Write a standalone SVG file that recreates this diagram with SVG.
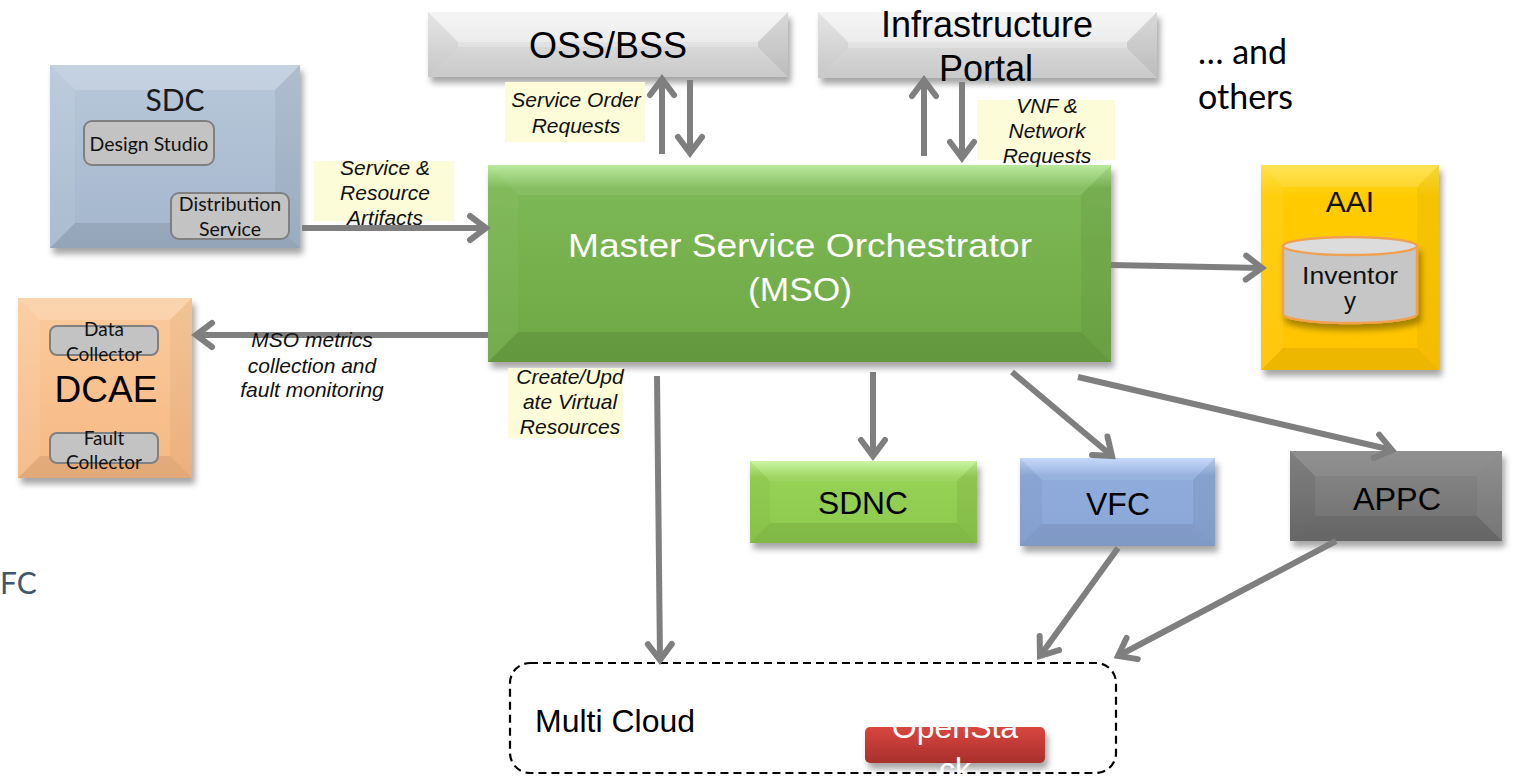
<svg xmlns="http://www.w3.org/2000/svg" width="1514" height="776" viewBox="0 0 1514 776">
  <defs>
    <style>
      .sans { font-family: "Liberation Sans", Arial, sans-serif; }
      .cal { font-family: Lato, "Open Sans", sans-serif; }
      .lbl { font-family: "Liberation Sans", Arial, sans-serif; font-style: italic; font-size: 21px; fill: #111; text-anchor: middle; }
      .lblbg { fill: #fdfcd8; }
      .conn { stroke: #7f7f7f; stroke-width: 6; fill: none; marker-end: url(#chev); }
      .hi { fill: #ffffff; }
      .sh { fill: #000000; }
      .sub { fill: #c3c3c3; stroke: #808080; stroke-width: 2; }
    </style>
    <marker id="chev" markerUnits="userSpaceOnUse" markerWidth="34" markerHeight="34" viewBox="0 0 34 34" refX="26" refY="17" orient="auto">
      <path d="M10,5 L26,17 L10,29" fill="none" stroke="#7f7f7f" stroke-width="6" stroke-linecap="round" stroke-linejoin="miter"/>
    </marker>
    <filter id="drop" x="-10%" y="-10%" width="130%" height="140%">
      <feDropShadow dx="3" dy="6" stdDeviation="3" flood-color="#000" flood-opacity="0.35"/>
    </filter>
    <linearGradient id="gSdc" x1="0" y1="0" x2="0" y2="1">
      <stop offset="0" stop-color="#b9c8da"/><stop offset="1" stop-color="#a3b6cd"/>
    </linearGradient>
    <linearGradient id="gDcae" x1="0" y1="0" x2="0" y2="1">
      <stop offset="0" stop-color="#fbcb9c"/><stop offset="1" stop-color="#f6b883"/>
    </linearGradient>
    <linearGradient id="gGray" x1="0" y1="0" x2="0" y2="1">
      <stop offset="0" stop-color="#f2f2f2"/><stop offset="1" stop-color="#d2d2d2"/>
    </linearGradient>
    <linearGradient id="gMso" x1="0" y1="0" x2="0" y2="1">
      <stop offset="0" stop-color="#b3e895"/><stop offset="0.12" stop-color="#7cb855"/><stop offset="1" stop-color="#6ea845"/>
    </linearGradient>
    <linearGradient id="gAai" x1="0" y1="0" x2="0" y2="1">
      <stop offset="0" stop-color="#ffe040"/><stop offset="0.15" stop-color="#ffcc00"/><stop offset="1" stop-color="#ffc400"/>
    </linearGradient>
    <linearGradient id="gSdnc" x1="0" y1="0" x2="0" y2="1">
      <stop offset="0" stop-color="#c6f59a"/><stop offset="0.2" stop-color="#96d255"/><stop offset="1" stop-color="#8cc84c"/>
    </linearGradient>
    <linearGradient id="gVfc" x1="0" y1="0" x2="0" y2="1">
      <stop offset="0" stop-color="#c2d8fb"/><stop offset="0.2" stop-color="#90acdc"/><stop offset="1" stop-color="#8aa6d6"/>
    </linearGradient>
    <linearGradient id="gAppc" x1="0" y1="0" x2="0" y2="1">
      <stop offset="0" stop-color="#8a8a8a"/><stop offset="1" stop-color="#6e6e6e"/>
    </linearGradient>
    <linearGradient id="gRed" x1="0" y1="0" x2="0" y2="1">
      <stop offset="0" stop-color="#d9463f"/><stop offset="1" stop-color="#a8302c"/>
    </linearGradient>
  </defs>

  <rect width="1514" height="776" fill="#ffffff"/>

  <!-- SDC -->
  <g id="sdc">
    <rect x="50" y="65" width="250" height="183" fill="url(#gSdc)" filter="url(#drop)"/>
    <polygon class="hi" opacity="0.18" points="50,65 300,65 275,90 75,90"/>
    <polygon class="hi" opacity="0.08" points="50,65 75,90 75,223 50,248"/>
    <polygon class="sh" opacity="0.05" points="300,65 300,248 275,223 275,90"/>
    <polygon class="sh" opacity="0.09" points="50,248 75,223 275,223 300,248"/>
    <text x="175" y="111" class="cal" font-size="30" fill="#1a1a1a" text-anchor="middle">SDC</text>
    <rect class="sub" x="84" y="121" width="130" height="44" rx="8"/>
    <text x="149" y="151" class="cal" font-size="19.5" fill="#111" text-anchor="middle">Design Studio</text>
    <rect class="sub" x="171" y="193" width="118" height="46" rx="8"/>
    <text x="230" y="211" class="cal" font-size="19.5" fill="#111" text-anchor="middle">Distribution</text>
    <text x="230" y="236" class="cal" font-size="19.5" fill="#111" text-anchor="middle">Service</text>
  </g>

  <!-- DCAE -->
  <g id="dcae">
    <rect x="18" y="298" width="174" height="180" fill="url(#gDcae)" filter="url(#drop)"/>
    <polygon class="hi" opacity="0.18" points="18,298 192,298 170,320 40,320"/>
    <polygon class="hi" opacity="0.08" points="18,298 40,320 40,456 18,478"/>
    <polygon class="sh" opacity="0.04" points="192,298 192,478 170,456 170,320"/>
    <polygon class="sh" opacity="0.08" points="18,478 40,456 170,456 192,478"/>
    <rect class="sub" x="50" y="326" width="108" height="29" rx="7" fill="#a9a9a9"/>
    <text x="104" y="336" class="cal" font-size="19" fill="#111" text-anchor="middle">Data</text>
    <text x="104" y="361" class="cal" font-size="19" fill="#111" text-anchor="middle">Collector</text>
    <text x="106" y="402" class="sans" font-size="37" fill="#000" text-anchor="middle">DCAE</text>
    <rect class="sub" x="50" y="433" width="108" height="30" rx="7"/>
    <text x="104" y="445" class="cal" font-size="19" fill="#111" text-anchor="middle">Fault</text>
    <text x="104" y="469" class="cal" font-size="19" fill="#111" text-anchor="middle">Collector</text>
  </g>

  <!-- OSS/BSS -->
  <g id="oss-bss">
    <rect x="428" y="12" width="360" height="65" fill="url(#gGray)" filter="url(#drop)"/>
    <polygon class="hi" opacity="0.3" points="428,12 788,12 758,42 458,42"/>
    <polygon class="sh" opacity="0.05" points="428,12 458,42 458,47 428,77"/>
    <polygon class="sh" opacity="0.1" points="788,12 788,77 758,47 758,42"/>
    <polygon class="sh" opacity="0.04" points="428,77 458,47 758,47 788,77"/>
    <text x="608" y="58" class="sans" font-size="36" fill="#000" text-anchor="middle">OSS/BSS</text>
  </g>

  <!-- Infrastructure Portal -->
  <g id="infra-portal">
    <rect x="818" y="12" width="339" height="66" fill="url(#gGray)" filter="url(#drop)"/>
    <polygon class="hi" opacity="0.3" points="818,12 1157,12 1127,42 848,42"/>
    <polygon class="sh" opacity="0.05" points="818,12 848,42 848,48 818,78"/>
    <polygon class="sh" opacity="0.1" points="1157,12 1157,78 1127,48 1127,42"/>
    <polygon class="sh" opacity="0.04" points="818,78 848,48 1127,48 1157,78"/>
    <text x="987" y="37" class="sans" font-size="36" fill="#000" text-anchor="middle">Infrastructure</text>
    <text x="986" y="81" class="sans" font-size="36" fill="#000" text-anchor="middle">Portal</text>
  </g>

  <!-- … and others -->
  <g id="others">
    <text x="1198" y="64" class="cal" font-size="34" fill="#000">… and</text>
    <text x="1198" y="109" class="cal" font-size="34" fill="#000">others</text>
  </g>

  <!-- MSO -->
  <g id="mso">
    <rect x="488" y="165" width="623" height="197" fill="url(#gMso)" filter="url(#drop)"/>
    <polygon class="hi" opacity="0.08" points="488,165 1111,165 1081,195 518,195"/>
    <polygon class="hi" opacity="0.04" points="488,165 518,195 518,332 488,362"/>
    <polygon class="sh" opacity="0.05" points="1111,165 1111,362 1081,332 1081,195"/>
    <polygon class="sh" opacity="0.09" points="488,362 518,332 1081,332 1111,362"/>
    <text x="800" y="257" class="sans" font-size="34" fill="#ffffff" text-anchor="middle" textLength="464" lengthAdjust="spacingAndGlyphs">Master Service Orchestrator</text>
    <text x="800" y="301" class="sans" font-size="34" fill="#ffffff" text-anchor="middle" textLength="104" lengthAdjust="spacingAndGlyphs">(MSO)</text>
  </g>

  <!-- AAI -->
  <g id="aai">
    <rect x="1261" y="165" width="178" height="205" fill="url(#gAai)" filter="url(#drop)"/>
    <polygon class="hi" opacity="0.12" points="1261,165 1439,165 1417,187 1283,187"/>
    <polygon class="hi" opacity="0.06" points="1261,165 1283,187 1283,348 1261,370"/>
    <polygon class="sh" opacity="0.04" points="1439,165 1439,370 1417,348 1417,187"/>
    <polygon class="sh" opacity="0.07" points="1261,370 1283,348 1417,348 1439,370"/>
    <text x="1350" y="212" class="sans" font-size="30" fill="#111" text-anchor="middle">AAI</text>
    <path d="M1283,246 L1283,314 A67,9 0 0 0 1417,314 L1417,246 Z" fill="#c6c6c6" stroke="#f0a050" stroke-width="2.5" filter="url(#drop)"/>
    <ellipse cx="1350" cy="246" rx="67" ry="9" fill="#dcdcdc" stroke="#f0a050" stroke-width="2.5"/>
    <text x="1350" y="284" class="sans" font-size="24" fill="#111" text-anchor="middle" textLength="96" lengthAdjust="spacingAndGlyphs">Inventor</text>
    <text x="1350" y="309" class="sans" font-size="24" fill="#111" text-anchor="middle">y</text>
  </g>

  <!-- SDNC -->
  <g id="sdnc">
    <rect x="750" y="461" width="227" height="82" fill="url(#gSdnc)" filter="url(#drop)"/>
    <polygon class="hi" opacity="0.08" points="750,461 977,461 957,481 770,481"/>
    <polygon class="sh" opacity="0.03" points="750,461 770,481 770,523 750,543"/>
    <polygon class="sh" opacity="0.06" points="977,461 977,543 957,523 957,481"/>
    <polygon class="sh" opacity="0.08" points="750,543 770,523 957,523 977,543"/>
    <text x="863" y="514" class="sans" font-size="31" fill="#000" text-anchor="middle" textLength="90" lengthAdjust="spacingAndGlyphs">SDNC</text>
  </g>

  <!-- VFC -->
  <g id="vfc">
    <rect x="1020" y="458" width="195" height="88" fill="url(#gVfc)" filter="url(#drop)"/>
    <polygon class="hi" opacity="0.08" points="1020,458 1215,458 1193,480 1042,480"/>
    <polygon class="sh" opacity="0.04" points="1020,458 1042,480 1042,524 1020,546"/>
    <polygon class="sh" opacity="0.06" points="1215,458 1215,546 1193,524 1193,480"/>
    <polygon class="sh" opacity="0.08" points="1020,546 1042,524 1193,524 1215,546"/>
    <text x="1118" y="515" class="sans" font-size="31" fill="#000" text-anchor="middle" textLength="64" lengthAdjust="spacingAndGlyphs">VFC</text>
  </g>

  <!-- APPC -->
  <g id="appc">
    <rect x="1290" y="451" width="212" height="90" fill="url(#gAppc)" filter="url(#drop)"/>
    <polygon class="hi" opacity="0.06" points="1290,451 1502,451 1477,476 1315,476"/>
    <polygon class="sh" opacity="0.07" points="1290,451 1315,476 1315,516 1290,541"/>
    <polygon class="hi" opacity="0.05" points="1502,451 1502,541 1477,516 1477,476"/>
    <polygon class="sh" opacity="0.08" points="1290,541 1315,516 1477,516 1502,541"/>
    <text x="1397" y="510" class="sans" font-size="31" fill="#000" text-anchor="middle" textLength="88" lengthAdjust="spacingAndGlyphs">APPC</text>
  </g>

  <!-- Multi Cloud -->
  <g id="multi-cloud">
    <rect x="510" y="663" width="606" height="110" rx="20" fill="none" stroke="#000" stroke-width="2.2" stroke-dasharray="8,5"/>
    <text x="535" y="732" class="sans" font-size="32" fill="#000">Multi Cloud</text>
  </g>

  <!-- OpenStack -->
  <g id="openstack">
    <rect x="865" y="727" width="180" height="36" rx="5" fill="url(#gRed)" filter="url(#drop)"/>
    <text x="955" y="738" class="sans" font-size="32" fill="#ffffff" text-anchor="middle">OpenSta</text>
    <text x="955" y="780" class="sans" font-size="32" fill="#ffffff" text-anchor="middle">ck</text>
  </g>

  <!-- FC -->
  <g id="fc">
    <text x="0" y="594" class="cal" font-size="30" fill="#44546a">FC</text>
  </g>

  <!-- connectors -->
  <g id="connectors">
    <line class="conn" x1="302" y1="228" x2="486" y2="228"/>
    <line class="conn" x1="488" y1="335" x2="196" y2="335"/>
    <line class="conn" x1="662" y1="154" x2="662" y2="79"/>
    <line class="conn" x1="690" y1="80" x2="690" y2="153"/>
    <line class="conn" x1="924" y1="156" x2="924" y2="80"/>
    <line class="conn" x1="962" y1="82" x2="962" y2="158"/>
    <line class="conn" x1="1111" y1="265" x2="1262" y2="268"/>
    <line class="conn" x1="657" y1="376" x2="660" y2="660"/>
    <line class="conn" x1="873" y1="372" x2="873" y2="456"/>
    <line class="conn" x1="1012" y1="372" x2="1112" y2="456"/>
    <line class="conn" x1="1078" y1="377" x2="1392" y2="450"/>
    <line class="conn" x1="1118" y1="548" x2="1040" y2="656"/>
    <line class="conn" x1="1336" y1="541" x2="1118" y2="656"/>
  </g>

  <!-- connector labels -->
  <g id="labels">
    <rect class="lblbg" x="314" y="161" width="140" height="60"/>
    <text class="lbl" x="385" y="175">Service &amp;</text>
    <text class="lbl" x="385" y="200">Resource</text>
    <text class="lbl" x="385" y="225">Artifacts</text>

    <rect class="lblbg" x="505" y="82" width="140" height="60"/>
    <text class="lbl" x="576" y="107">Service Order</text>
    <text class="lbl" x="576" y="133">Requests</text>

    <rect class="lblbg" x="977" y="100" width="138" height="60"/>
    <text class="lbl" x="1047" y="113">VNF &amp;</text>
    <text class="lbl" x="1047" y="138">Network</text>
    <text class="lbl" x="1047" y="163">Requests</text>

    <text class="lbl" x="312" y="347">MSO metrics</text>
    <text class="lbl" x="312" y="373">collection and</text>
    <text class="lbl" x="312" y="397">fault monitoring</text>

    <rect class="lblbg" x="508" y="368" width="115" height="70"/>
    <text class="lbl" x="570" y="384">Create/Upd</text>
    <text class="lbl" x="570" y="409">ate Virtual</text>
    <text class="lbl" x="570" y="434">Resources</text>
  </g>
</svg>
